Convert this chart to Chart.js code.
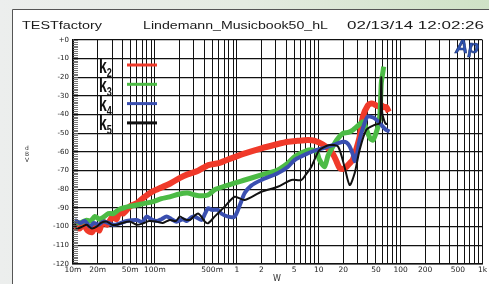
<!DOCTYPE html>
<html>
<head>
<script src="https://cdn.jsdelivr.net/npm/chart.js"></script>
<style>
  body { margin: 0; background: #fff; }
  canvas { display: block; }
</style>
</head>
<body>
<canvas id="thd" width="489" height="284"></canvas>
<script>
// power sweep, THD components vs output power (W)
const k2W  = [0.0105,0.012,0.0135,0.015,0.017,0.019,0.021,0.023,0.026,0.03,0.034,0.037,0.041,0.05,0.06,0.075,0.095,0.12,0.152,0.2,0.25,0.337,0.45,0.6,0.783,1.2,2.0,3.0,4.22,5.5,7.4,9,11.3,13,14.9,16.5,18,20,21.8,24,26.2,29,31.6,34.7,39.9,44,48.2,53,58.2,63,67,72];
const k2dB = [-100,-101,-99,-102,-103,-100,-102,-97,-99,-95,-96,-92,-93,-89,-87.5,-84,-81,-79,-77,-74,-72,-70,-67,-66,-64,-61,-58,-56,-54.5,-54,-53.6,-54,-56,-58,-61,-65,-68.5,-69,-68,-66,-64,-58,-52,-41,-35,-34,-34.5,-35.5,-35,-36,-36,-38.5];

const k3W  = [0.0105,0.012,0.0147,0.0165,0.0185,0.021,0.0234,0.027,0.031,0.036,0.041,0.05,0.06,0.075,0.095,0.12,0.152,0.2,0.25,0.307,0.37,0.445,0.55,0.783,1.25,2.0,3.16,4.2,5.1,7.4,8.5,9.5,10.2,11.8,13,14.9,17,19.8,23,26.2,30,34.7,37,39.9,43,46.1,50,53,56,58.2,61,62.2];
const k3dB = [-97,-98,-96.5,-97,-94.5,-96,-95,-93,-93,-91,-90,-89,-88.4,-87.5,-86.6,-85,-84,-82.5,-82,-83,-83.5,-83,-80,-77.7,-75,-72.3,-69.6,-66,-62.5,-59,-59,-60,-64,-67.9,-62,-57,-53,-50,-49.5,-48.2,-46,-43.8,-46,-50,-53,-53.6,-50,-46.4,-40,-23,-17,-14.3];

const k4W  = [0.0105,0.0122,0.014,0.0161,0.018,0.0205,0.0234,0.027,0.031,0.0374,0.045,0.0598,0.07,0.0792,0.09,0.105,0.12,0.139,0.16,0.184,0.22,0.244,0.28,0.307,0.37,0.41,0.445,0.5,0.588,0.65,0.783,0.942,1.1,1.25,1.5,2.0,3.16,4.2,5.09,7.41,9.34,11.3,14.9,19.8,22,23.9,26,27.5,29.5,31.6,36.3,39.9,48.2,58.2,66,73.4];
const k4dB = [-96.5,-98,-97,-100,-98,-99,-97.3,-98,-99,-98.2,-97,-96.4,-97.5,-94.6,-96,-97,-96,-94.6,-96,-97.3,-96,-97,-95,-94.6,-96.4,-93,-90.2,-91,-91,-93,-94.6,-94.6,-88,-82,-78,-75,-71.4,-68,-64.3,-60.7,-59,-58,-56.3,-54.5,-55,-57,-61,-65,-61,-53.6,-44.6,-41,-42,-45.5,-48,-49];

const k5W  = [0.0105,0.0111,0.013,0.0147,0.017,0.0195,0.022,0.0258,0.03,0.0341,0.04,0.0496,0.06,0.072,0.085,0.105,0.125,0.152,0.18,0.202,0.23,0.267,0.307,0.337,0.37,0.4,0.445,0.536,0.71,0.942,1.25,2.0,3.16,4.64,6.14,7,8.14,10.2,13.5,17.2,20.7,23.9,27.5,31.6,38.1,48.2,55.5,57,58.2,59.5,61,66,70];
const k5dB = [-98,-101,-100,-99,-101,-100,-98,-97.3,-99,-99,-98,-97.3,-99,-98.2,-97,-97.3,-98,-96.4,-97,-94.6,-96,-96.4,-94,-93,-94.6,-97,-98.2,-94.6,-89.3,-84,-85.7,-81.3,-78.6,-75,-75,-72,-67.9,-59,-56.3,-57,-68,-77.7,-71.4,-59,-48.2,-45.5,-44.6,-40,-20,-38,-41,-45,-44.6];

const xLabelValues = [0.01,0.02,0.05,0.1,0.5,1,2,5,10,20,50,100,200,500,1000];
const xLabelTexts  = ['10m','20m','50m','100m','500m','1','2','5','10','20','50','100','200','500','1k'];
const seriesNames  = ['2','3','4','5'];
const seriesColors = ['#f03a2a','#4cbb45','#3a4fb0','#111111'];

function pts(xs, ys) {
  return xs.map((x, i) => ({ x: x, y: ys[i] }));
}

// text squeezed/stretched to a target width
function fitText(ctx, txt, x, y, w) {
  const m = ctx.measureText(txt).width;
  ctx.save();
  ctx.translate(x, y);
  ctx.scale(w / m, 1);
  ctx.fillText(txt, 0, 0);
  ctx.restore();
}

const decor = {
  id: 'decor',
  beforeDraw(chart) {
    const ctx = chart.ctx;
    ctx.save();
    const g = ctx.createLinearGradient(0, 0, 489, 0);
    g.addColorStop(0, '#eceeed');
    g.addColorStop(0.5, '#e4ebe1');
    g.addColorStop(1, '#cfe2c6');
    ctx.fillStyle = g;
    ctx.fillRect(0, 0, 489, 284);
    ctx.fillStyle = '#fff';
    ctx.fillRect(12, 10, 477, 274);
    ctx.strokeStyle = '#555';
    ctx.lineWidth = 1;
    ctx.beginPath();
    ctx.moveTo(12.5, 284);
    ctx.lineTo(12.5, 9.5);
    ctx.lineTo(489, 9.5);
    ctx.stroke();

    ctx.fillStyle = '#1a1a1a';
    ctx.font = '10px "Liberation Sans", Arial, sans-serif';
    ctx.textBaseline = 'alphabetic';
    fitText(ctx, 'TESTfactory', 22, 29, 80);
    fitText(ctx, 'Lindemann_Musicbook50_hL', 143, 29, 185);
    fitText(ctx, '02/13/14 12:02:26', 347, 29, 137);
    ctx.restore();
  },
  afterDraw(chart) {
    const ctx = chart.ctx;
    const a = chart.chartArea;
    const y = chart.scales.y;
    ctx.save();
    // fine dB ruler on the left edge
    ctx.strokeStyle = '#666';
    ctx.lineWidth = 0.9;
    for (let v = -120; v <= 0; v++) {
      const py = Math.round(y.getPixelForValue(v)) + 0.5;
      ctx.beginPath();
      ctx.moveTo(a.left, py);
      ctx.lineTo(a.left + 5, py);
      ctx.stroke();
    }
    // legend
    seriesNames.forEach((n, i) => {
      const ty = 73 + i * 19;
      ctx.fillStyle = '#111';
      ctx.save();
      ctx.translate(99, ty);
      ctx.scale(0.7, 1);
      ctx.font = 'bold 20px "Liberation Sans", Arial, sans-serif';
      ctx.fillText('k', 0, 0);
      ctx.font = 'bold 13px "Liberation Sans", Arial, sans-serif';
      ctx.fillText(n, 11, 4);
      ctx.restore();
      ctx.strokeStyle = seriesColors[i];
      ctx.lineWidth = 3;
      ctx.beginPath();
      ctx.moveTo(127, 65 + i * 19.3);
      ctx.lineTo(157, 65 + i * 19.3);
      ctx.stroke();
    });
    // Ap logo
    ctx.fillStyle = '#2f55b5';
    ctx.strokeStyle = '#1c3272';
    ctx.lineWidth = 0.6;
    ctx.font = 'italic bold 18px "Liberation Sans", Arial, sans-serif';
    ctx.fillText('Ap', 455, 53);
    ctx.strokeText('Ap', 455, 53);
    // axis captions
    ctx.fillStyle = '#333';
    ctx.font = '6px "DejaVu Sans", sans-serif';
    ctx.textAlign = 'center';
    ctx.fillText('d', 27, 150);
    ctx.fillText('B', 27, 156);
    ctx.fillText('V', 27, 162);
    ctx.font = '8px "DejaVu Sans", sans-serif';
    ctx.fillText('W', 277, 281);
    ctx.restore();
  }
};

const allTicks = [];
for (let e = -2; e <= 2; e++) {
  for (let m = 1; m <= 9; m++) allTicks.push({ value: m * Math.pow(10, e) });
}
allTicks.push({ value: 1000 });

const widths = [6, 5, 4, 2];
const datasets = [[k2W, k2dB], [k3W, k3dB], [k4W, k4dB], [k5W, k5dB]].map((s, i) => ({
  label: 'k' + seriesNames[i],
  data: pts(s[0], s[1]),
  borderColor: seriesColors[i],
  borderWidth: widths[i],
  pointRadius: 0,
  tension: 0.25,
  fill: false,
  order: 4 - i
}));

new Chart(document.getElementById('thd'), {
  type: 'line',
  data: { datasets: datasets },
  plugins: [decor],
  options: {
    responsive: false,
    animation: false,
    devicePixelRatio: 1,
    layout: { padding: { top: 40, right: 6, left: 0, bottom: 0 } },
    plugins: { legend: { display: false }, tooltip: { enabled: false } },
    scales: {
      x: {
        type: 'logarithmic',
        min: 0.01,
        max: 1000,
        afterFit: s => { s.height = 20; },
        afterBuildTicks: s => { s.ticks = allTicks.map(t => ({ value: t.value })); },
        grid: { color: '#111', lineWidth: 1, drawTicks: false },
        border: { color: '#111', width: 1.5 },
        ticks: {
          autoSkip: false,
          maxRotation: 0,
          padding: 2,
          color: '#222',
          font: { family: 'DejaVu Sans', size: 7.5 },
          callback: v => {
            const i = xLabelValues.findIndex(l => Math.abs(l - v) / l < 1e-6);
            return i >= 0 ? xLabelTexts[i] : '';
          }
        }
      },
      y: {
        min: -120,
        max: 0,
        afterFit: s => { s.width = 73; },
        grid: { color: '#111', lineWidth: 1.3, drawTicks: false },
        border: { color: '#111', width: 1.5 },
        ticks: {
          stepSize: 10,
          padding: 4,
          color: '#222',
          font: { family: 'DejaVu Sans', size: 7 },
          callback: v => (v === 0 ? '+0' : String(v))
        }
      }
    }
  }
});
</script>
</body>
</html>
